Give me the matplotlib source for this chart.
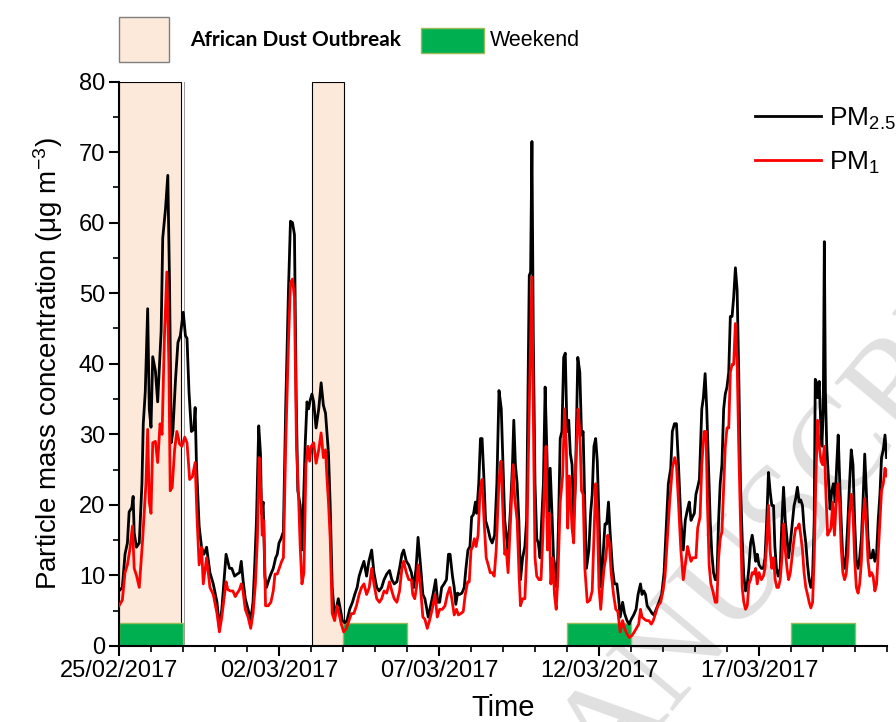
import matplotlib
matplotlib.use("Agg")
import matplotlib.pyplot as plt
from matplotlib.patches import Rectangle

plt.rcParams["mathtext.default"] = "regular"

SANS = ["Liberation Sans", "DejaVu Sans"]

# ---- samples, hours since 25/02/2017 00:00 ----
pm25_hours = [
    0, 2.5, 4.5, 6.3, 7.6, 9.6, 10.6, 11.4, 13.1, 15.2, 17.2, 18.2, 19.7, 21.5, 22.7, 24, 25.3, 27.3, 29, 31.6,
    32.8, 34.9, 36.6, 37.9, 39.2, 40.4, 42.4, 44.2, 46, 48.2, 49.8, 51, 52.5, 54.3, 56.1, 57.1, 58.1, 60.1, 61.9, 63.7,
    65.7, 68.2, 70.7,
    73.5, 75.3, 77.1, 78.6, 80.3, 81.6, 82.9, 84.6, 86.7, 88.7, 90.4, 91.7, 93, 94.7, 96.8, 98.8, 100.5, 101.8, 103.1, 104.8,
    106.1, 106.9, 108.1, 109.4, 110.6, 112.4, 113.9, 115.7, 117.5, 118.7, 120, 121.5, 123.3, 125, 127.1, 128.6, 130.1, 131.6, 132.9, 134.1,
    135.9, 137.2, 138.4, 139.7, 141, 142.2, 143.5, 144.7, 146,
    147.8, 149.8, 151.6, 153.3, 154.9, 155.9, 157.1, 158.4, 159.9, 161.7, 162.9, 164.5, 166, 167.5, 169.3, 171, 173, 175.1, 176.8, 178.6,
    180.1, 181.9, 183.7, 185.7, 187.4, 189.5, 191.2, 193.3, 195, 197, 198.8, 200.8, 202.9, 204.6, 206.4, 208.4, 210.4, 212.2, 213.5, 215.5,
    217.3,
    219.3, 221.1, 222.8, 224.3, 226.1, 227.9, 229.4, 230.4, 231.9, 233.7, 235.5, 237.5, 239, 240.5, 242, 243.8, 245.6, 247.1, 248.3, 250.1,
    251.4, 252.6, 253.9, 255.2, 257.2, 258.9, 260.2, 261.7, 263.2, 264.5, 265.8, 267.3, 268.3, 269.8, 271.1, 272.3, 273.6, 274.9, 276.6, 278.4,
    279.9, 281.7, 283.4, 285, 286.7, 288, 289.3,
    290.5, 291.8, 293.6, 295.1, 296.1, 297.3, 298.6, 299.9, 301.1, 302.7, 304.4, 305.7, 306.9, 307.7, 308.7, 309.7, 310.7, 312, 313.3, 314.5,
    315.8, 317, 318.3, 319.6, 320.8, 322.1, 323.4, 324.6, 325.9, 327.2, 328.4, 329.7, 330.9, 332.2, 333.5, 334.7, 336, 337.3, 338.5, 339.8,
    341, 342.3, 344.1, 345.6, 346.9, 348.1, 349.1, 350.6, 352.4, 353.7, 354.9, 356.2, 357.5, 358.7, 360, 361.3,
    362, 363.3, 364.5, 365.8, 367.1, 368.3, 370.1, 371.6, 373.4, 374.7, 375.9, 377.7, 379.2, 381, 382.7, 384.2, 386, 387.8, 389.3, 391.1,
    392.3, 393.6, 394.9, 396.1, 397.9, 399.9, 401.2, 402.9, 405, 407, 408.8, 410, 412, 413.8, 415, 416.6, 418.1, 419.6, 421.4, 423.2,
    424.7, 426.4, 427.7, 429, 430.2, 431.5, 432.7,
    434, 435.3, 437.1, 438.3, 439.6, 440.8, 442.1, 443.4, 444.6, 445.9, 447.2, 448.4, 449.7, 450.9, 452.2, 453.5, 454.7, 456, 457.3, 458.5,
    459.8, 461, 462.3, 463.6, 464.8, 466.1, 467.4, 468.6, 469.9, 471.2, 472.4, 473.7, 474.9, 476.2, 477.5, 478.7, 480, 481.8, 483.3, 484.5,
    485.8, 487.1, 488.3, 489.6, 490.9, 491.9, 493.1, 494.4, 495.9, 497.2, 498.4, 499.7, 501, 502.2, 503.5,
    506.3, 507.5, 508.8, 510.1, 511.3, 512.6, 513.8, 515.1, 516.4, 517.6, 518.9, 520.2, 521.4, 522.2, 523.2, 523.9, 525.2, 526.5, 527.2, 528.2,
    529, 529.8, 530.8, 532.3, 533.3, 534.6, 535.8, 537.1, 538.3, 539.4, 540.4, 541.6, 542.9, 544.2, 545.4, 546.7, 547.9, 549.2, 550.5, 551.7,
    553, 554.3, 555.5, 556.8, 558, 559.3, 560.6, 561.8, 563.1, 564.4, 565.6, 566.9, 568.2, 569.4, 570.7, 571.9, 573.2, 574.5, 575.7,
]
pm25 = [
    7.8, 8.3, 13, 14.6, 19, 19.6, 21.2, 16, 14, 14.6, 23, 31.5, 36, 47.8, 33.6, 31, 41, 39, 34.6, 44.6,
    57.8, 62, 66.7, 51.5, 28.8, 30.4, 37.8, 43, 44, 47.3, 44, 43.6, 36, 30.4, 30.7, 33.8, 25.7, 17, 14, 13,
    14, 10.4, 8.8,
    6.2, 2.5, 5.2, 8.8, 13, 12, 11, 11, 9.9, 10.2, 10.4, 12, 9.4, 6.7, 5.2, 3.6, 6.2, 11.5, 17.8, 31.2,
    27.3, 18.8, 20.4, 9.9, 8.3, 9.4, 10.2, 11, 12.5, 13, 14.6, 15.2, 16.2, 33.6, 50.4, 60.2, 60, 58.3, 35.2, 22,
    19.9, 13.6, 20.4, 28.8, 34.6, 33.6, 34.9, 35.7, 34.6,
    30.9, 33.6, 37.3, 34.1, 33, 30.4, 27.3, 19.9, 8.3, 4.1, 5.2, 6.7, 5.2, 3.6, 3.3, 3.6, 5.2, 6.2, 7.3, 8.3,
    9.9, 11, 12, 9.9, 12, 13.6, 10.4, 8.3, 7.8, 8.3, 9.4, 10.2, 10.7, 9.4, 8.8, 9.1, 11, 13, 13.6, 12,
    11.5,
    10.4, 8.3, 11, 15.4, 11.5, 7.3, 6.7, 5.7, 4.1, 5.7, 7.3, 9.4, 6.2, 6.2, 8.3, 8.8, 9.4, 13, 13, 9.9,
    8.3, 5.9, 7.5, 7.3, 7.5, 8.3, 11, 13.6, 14.1, 18.3, 18.6, 20.4, 18.8, 23, 29.4, 29.4, 24.1, 17.8, 16.7, 15.2,
    14.6, 15.7, 23, 36.2, 33.6, 25.7, 17.8,
    15.7, 13.6, 19.4, 25.7, 32, 25.7, 23, 17.8, 9.4, 12.5, 14.1, 17.8, 38.8, 52.5, 53, 71.5, 44.1, 23, 15.2, 14.6,
    12.5, 17.8, 23, 36.7, 28.3, 17.8, 25.2, 19.4, 12.5, 11, 8.3, 17.8, 29.4, 30.4, 40.9, 41.5, 30.4, 32, 27.3, 25.7,
    17.8, 23, 40.9, 38.8, 29.9, 30.4, 22, 11, 13.6, 18.8, 21.5, 28.3, 29.4, 26.2, 17.8, 9.9,
    8.3, 13.6, 17.3, 17.3, 20.4, 16.2, 11, 8.8, 8.8, 6.7, 4.1, 6.2, 4.6, 3.6, 3.1, 3.8, 4.4, 5.2, 7.3, 8.8,
    7.3, 7.8, 7.3, 5.7, 5.2, 4.6, 4.4, 5.2, 6.2, 7.3, 10.4, 15.2, 23, 25.2, 30.4, 31.5, 31.5, 25.7, 17.8, 13.6,
    17.8, 19.4, 20.4, 17.8, 18.3, 18.8, 21.5,
    22.5, 23.6, 33.6, 35.2, 38.6, 33.6, 25.7, 17.8, 13.1, 10.4, 9.4, 9.4, 17.8, 23, 25.7, 33.6, 35.7, 36.7, 38.8, 46.7,
    46.7, 49.4, 53.6, 50.4, 38.8, 23, 15.2, 9.9, 7.8, 8.8, 11, 14.6, 15.7, 14.1, 12, 13, 11.5, 11, 11, 12.5,
    17.8, 24.6, 22, 19.9, 19.9, 14.1, 11, 9.9, 11, 17.8, 22.5, 17.8, 15.2, 12.5, 14.6,
    19.9, 20.9, 22.5, 20.4, 20.7, 19.9, 16.7, 14.6, 11.5, 9.4, 8.3, 9.9, 17.8, 37.8, 37.3, 35.2, 37.5, 30.4, 28.3, 33.6,
    57.3, 36.2, 28.3, 23, 19.4, 22, 23, 20.4, 25.7, 29.9, 24.1, 17.8, 12, 11, 13.1, 17.8, 23, 27.8, 25.7, 17.8,
    12, 11, 12.5, 15.2, 20.4, 27.2, 21.5, 15.2, 12.5, 12.5, 13.6, 12, 13.1, 17.8, 21.5, 26.7, 27.8, 29.9, 26.7,
]

pm1_hours = [
    0, 2.5, 4.5, 6.3, 8.1, 10.1, 11.4, 13.1, 15.2, 17.7, 20.2, 21.5, 22.7, 24, 25.3, 27.3, 29, 30.8, 32.3, 34.1,
    35.9, 37.4, 38.4, 39.9, 41.7, 43.4, 45.5, 47.2, 49.3, 51, 53, 55, 57.1, 58.6, 60.1, 61.9, 63.2, 65.7, 68.2, 70.7,
    73.5, 75.3, 77.1, 79.1, 80.3, 81.6, 83.6, 85.4, 87.2, 88.7, 90.4, 91.7, 93, 94.7, 96.8, 98.8, 100.5, 102.3, 103.8, 105.1,
    106.4, 107.4, 108.6, 109.9, 111.9, 113.9, 115.7, 117, 118.7, 120.2, 122, 123.3, 125, 127.1, 128.6, 130.1, 131.6, 133.1, 134.6, 135.9,
    137.2, 138.7, 140.2, 141.7, 143, 144.2, 146,
    147.8, 149.8, 151.6, 153.3, 154.9, 155.9, 157.1, 158.4, 159.9, 161.7, 163.5, 165, 166.7, 168.5, 170.5, 172.5, 174.3, 176.1, 178.1, 180.1,
    181.9, 183.7, 185.7, 187.7, 189.5, 191.2, 193.3, 195.3, 197, 198.8, 200.8, 202.9, 204.6, 206.4, 208.4, 210.4, 212.2, 213.5, 215.5, 217.3,
    219.3, 220.3, 221.8, 223.1, 224.3, 226.1, 227.9, 229.4, 231.2, 232.9, 234.9, 237, 238.7, 240.5, 242.5, 244.5, 246.3, 248.1, 249.6, 251.4,
    253.1, 254.6, 256.4, 258.2, 259.7, 261.5, 262.7, 264, 265.3, 266.5, 267.8, 269.3, 270.8, 272.3, 273.8, 275.4, 276.9, 278.4, 279.9, 281.4,
    282.9, 285, 286.5, 288, 289.3,
    290.5, 291.8, 293.6, 295.6, 296.8, 298.6, 300.1, 301.1, 302.7, 304.4, 305.7, 306.9, 308.2, 309.7, 310.7, 312, 313.3, 315, 316.5, 317.8,
    319.1, 320.3, 321.3, 322.6, 323.9, 325.4, 326.6, 327.9, 329.2, 330.9, 332.7, 334.2, 335.5, 336.5, 337.8, 339.8, 341, 342.6, 344.3, 345.6,
    346.9, 348.1, 349.4, 351.2, 353.2, 354.9, 356.2, 357.5, 358.7, 360, 361.3,
    362.5, 363.8, 365.1, 366.6, 367.8, 369.1, 370.9, 372.6, 374.1, 375.9, 377.7, 379.2, 381, 382.7, 384.8, 386.5, 388, 389.8, 391.1, 392.3,
    394.1, 395.6, 397.4, 399.2, 400.7, 402.4, 404.2, 406.2, 408, 409.5, 411.3, 413, 415, 416.8, 418.1, 419.6, 421.4, 423.2, 424.7, 426.4,
    427.7, 429, 430.2, 431.5, 432.7,
    434, 435.8, 437.1, 438.8, 440.3, 441.3, 442.6, 443.9, 445.4, 447.2, 448.4, 449.7, 450.9, 452.2, 453.5, 454.7, 456, 457.3, 458.5, 459.8,
    461, 462.3, 463.6, 464.8, 466.1, 467.4, 468.6, 469.9, 471.2, 472.4, 473.7, 474.9, 476.2, 477.5, 478.7, 480, 481.8, 483.3, 484.5, 485.8,
    487.1, 488.3, 489.6, 490.9, 492.1, 493.4, 494.6, 495.9, 497.2, 498.4, 499.7, 501, 502.2, 503.5,
    506.3, 507.5, 508.8, 510.1, 511.3, 512.6, 513.8, 515.1, 516.4, 517.6, 518.9, 520.2, 521.4, 522.7, 523.9, 525.2, 526.5, 527.7, 529, 530.3,
    531.5, 532.8, 534, 535.3, 536.6, 537.8, 539.1, 540.4, 541.6, 542.9, 544.2, 545.4, 546.7, 547.9, 549.2, 550.5, 551.7, 553, 554.3, 555.5,
    556.8, 558, 559.3, 560.6, 561.8, 563.1, 564.4, 565.6, 566.9, 568.2, 569.4, 570.7, 571.9, 573.2, 574.5, 575.7,
]
pm1 = [
    5.7, 6.5, 10.4, 11.5, 13.6, 17, 11, 10, 8.3, 15, 23, 30.7, 20.4, 18.8, 28.8, 29, 26, 31.5, 30, 44,
    53, 40, 22, 22.5, 27.8, 30.4, 28.6, 28.3, 29.6, 28.8, 23.6, 24, 26, 17.8, 11.5, 14, 8.8, 12.5, 8.3, 7.3,
    4.6, 2, 4.1, 7.3, 9.1, 8, 7.8, 7.8, 7, 7.5, 8, 8.8, 7.8, 5.2, 4.1, 2.5, 4.6, 8.8, 15.2, 26.7,
    22, 15.7, 17.8, 5.7, 5.7, 6.2, 7.8, 10.2, 10.2, 11, 12, 12.5, 28.3, 43, 51.5, 52, 49.4, 28.3, 21.5, 14.1,
    8.8, 10.4, 25.7, 28.3, 26.2, 28.3, 28.8,
    25.9, 27.8, 30.2, 26.7, 27.8, 24.1, 20.4, 15.2, 4.6, 3.6, 5.7, 4.6, 3.1, 2, 2.5, 3.6, 4.6, 4.6, 5.7, 7.3,
    8.3, 8.8, 7.3, 8.3, 11, 8.8, 6.7, 6.2, 6.7, 7.8, 7.5, 9.1, 7.8, 6.7, 6.2, 7.8, 11, 12, 10.4, 9.4,
    9.4, 7.3, 6.7, 8.3, 11.5, 8.3, 4.1, 3.8, 2.5, 3.6, 5.2, 7.3, 4.1, 5.2, 5.2, 5.7, 7.3, 8.3, 6.7, 4.4,
    5.2, 4.4, 4.6, 4.9, 7.3, 9.1, 9.1, 13.6, 14.1, 15.2, 14.1, 15.7, 22, 23.6, 17.8, 12.5, 11.5, 10.4, 10.4, 9.9,
    13.6, 23.6, 26.2, 18.8, 13,
    13.6, 10.4, 17.8, 25.7, 20.9, 17.8, 9.9, 5.7, 6.7, 6.7, 12.5, 25.7, 38.8, 52.3, 33.6, 12.5, 9.9, 9.4, 9.4, 15.2,
    23, 28.3, 13.6, 18.8, 8.8, 12.5, 7.3, 5.2, 9.9, 20.4, 24.1, 33.6, 28.3, 16.7, 24.1, 16.7, 14.6, 25.7, 33.6, 30.4,
    22, 21.5, 11, 6.2, 6.5, 7.8, 15.2, 23, 18.8, 8.3, 5.2,
    8.3, 11, 12.5, 15.7, 14.6, 10.4, 7.3, 5.2, 4.9, 2, 3.6, 2.5, 1.7, 1.2, 1.5, 2, 2.5, 3.1, 5.2, 4.1,
    3.8, 3.6, 3.6, 3.1, 3.6, 4.6, 5.7, 6.2, 7.8, 9.9, 15.2, 20.4, 25.2, 26.7, 25.7, 20.4, 13.6, 9.4, 11.5, 14.1,
    13, 12, 12.5, 12.5, 12.5,
    16.7, 18.3, 25.7, 30.4, 30.4, 20.4, 11.5, 8.8, 7.8, 6.2, 6.2, 12.5, 15.2, 16.2, 22.5, 28.3, 30.9, 30.9, 38.8, 39.9,
    39.9, 45.7, 40.4, 28.3, 17.8, 8.3, 6.2, 5.2, 5.7, 8.8, 9.4, 10.4, 10.2, 11, 8.8, 10.4, 9.4, 9.9, 11, 14.6,
    19.9, 13.6, 11, 12.5, 9.4, 8.3, 8.3, 9.4, 12.5, 17.3, 13.6, 11, 9.4, 10.4,
    15.2, 16.7, 16.7, 17.3, 15.7, 13.6, 10.4, 8.3, 7.3, 6.2, 5.4, 6.2, 12.5, 24.1, 32, 28.3, 26.2, 25.7, 28.3, 20.9,
    15.7, 16.2, 16.7, 20.4, 15.7, 19.9, 23, 20.4, 14.1, 10.4, 9.4, 10.2, 13.1, 18.8, 21.5, 18.8, 12.5, 8.3, 7.5, 8.8,
    12, 17.8, 20.9, 16.7, 12, 9.9, 10.4, 9.9, 7.8, 8.8, 13.1, 17.8, 22, 23, 25.2, 24.1,
]

# shaded periods (hours)
dust_start = [0, 144.5]
dust_end = [46.5, 168.5]
weekend_start = [0, 168, 336, 504]
weekend_hours = 48
weekend_height = 3.3

tick_hours = [0, 120, 240, 360, 480]
tick_labels = ["25/02/2017", "02/03/2017", "07/03/2017", "12/03/2017", "17/03/2017"]

fig = plt.figure(figsize=(8.96, 7.22), dpi=100)
ax = fig.add_axes([119 / 896, 76 / 722, 768 / 896, 564.5 / 722])
ax.patch.set_alpha(0)

# faint diagonal watermark behind the data
fig.text(0.874, 0.272, "MANUSCRIPT", rotation=50, fontsize=96, color="#e0e0e0",
         family=["Liberation Serif"], ha="center", va="center", zorder=-5)

for s, e in zip(dust_start, dust_end):
    ax.add_patch(Rectangle((s, 0), e - s, 80, facecolor="#fde9d9", edgecolor="black",
                           linewidth=0.8, zorder=1))
ax.axvline(49, color="#999999", linewidth=0.7, zorder=1)

for s in weekend_start:
    ax.add_patch(Rectangle((s, 0), weekend_hours, weekend_height, facecolor="#00b050",
                           edgecolor="#9bbb59", linewidth=1.0, zorder=1.5))

l25, = ax.plot(pm25_hours, pm25, color="black", linewidth=2.0, zorder=3)
l1, = ax.plot(pm1_hours, pm1, color="#ff0000", linewidth=2.0, zorder=4)

ax.set_xlim(0, 576)
ax.set_ylim(0, 80)
for side in ("top", "right"):
    ax.spines[side].set_visible(False)
for side in ("left", "bottom"):
    ax.spines[side].set_linewidth(1.5)

ax.set_xticks(tick_hours)
ax.set_xticklabels(tick_labels, family=SANS, fontsize=17)
ax.set_xticks(range(0, 577, 24), minor=True)
ax.set_yticks(range(0, 81, 10))
ax.set_yticklabels([str(v) for v in range(0, 81, 10)], family=SANS, fontsize=17)
ax.set_yticks(range(0, 81, 5), minor=True)
ax.tick_params(which="major", direction="out", length=7, width=1.5, pad=3)
ax.tick_params(which="minor", direction="out", length=4, width=1.2)

ax.set_xlabel("Time", family=SANS, fontsize=21, labelpad=9)
ax.set_ylabel("Particle mass concentration (μg m$^{-3}$)", family=SANS, fontsize=20, labelpad=10)

ax.legend([l25, l1], ["PM$_{2.5}$", "PM$_{1}$"], loc="upper right",
          bbox_to_anchor=(906 / 896, 1 - 95 / 722), bbox_transform=fig.transFigure,
          frameon=False, prop={"family": SANS, "size": 19}, handlelength=2.5,
          handletextpad=0.3, labelspacing=0.68, borderaxespad=0)

# legend for shaded periods, above the axes
fig.patches.append(Rectangle((119 / 896, 1 - 62 / 722), 50 / 896, 45 / 722, transform=fig.transFigure,
                             facecolor="#fde9d9", edgecolor="#7f7f7f", linewidth=1.0))
fig.text(190 / 896, 1 - 40 / 722, "African Dust Outbreak", family=["Lato", "DejaVu Sans"],
         fontweight="bold", fontsize=15, ha="left", va="center")
fig.patches.append(Rectangle((421 / 896, 1 - 53 / 722), 63 / 896, 25 / 722, transform=fig.transFigure,
                             facecolor="#00b050", edgecolor="#9bbb59", linewidth=1.0))
fig.text(490 / 896, 1 - 40 / 722, "Weekend", family=SANS, fontsize=15.5, ha="left", va="center")

fig.savefig("out.png", dpi=100)
